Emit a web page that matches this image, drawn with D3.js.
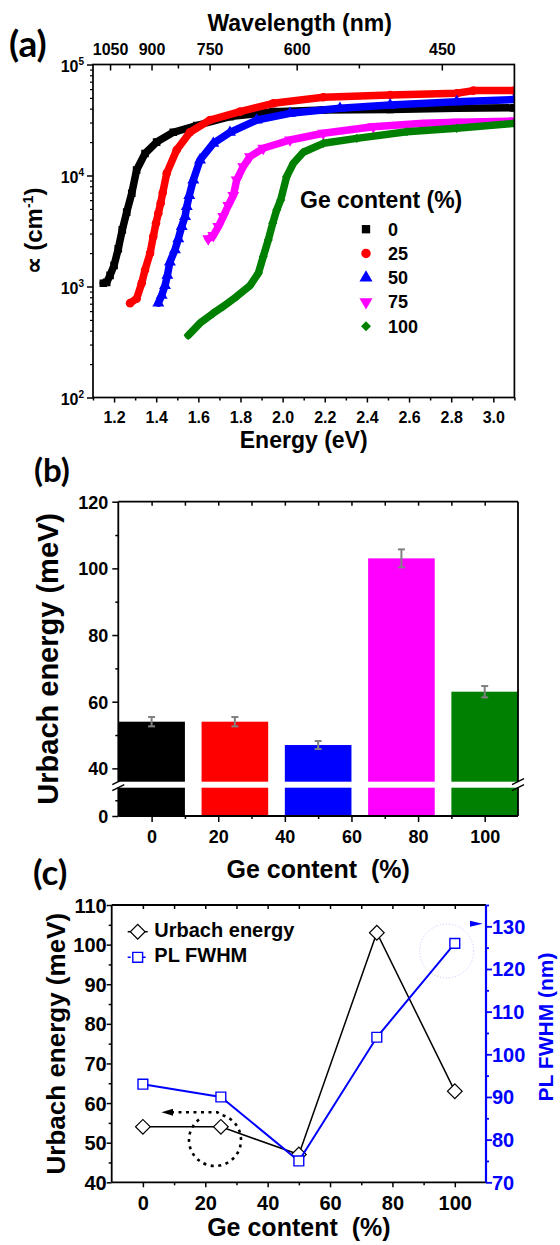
<!DOCTYPE html>
<html><head><meta charset="utf-8">
<script src="https://cdn.jsdelivr.net/npm/d3@7"></script>
<style>
body{margin:0;background:#fff}
svg{display:block}
</style>
</head><body>
<svg id="c" width="560" height="1245"></svg>
<script>
// ---------------- DATA ----------------
// Panel (a): absorption coefficient vs photon energy
const e0   = [1.149,1.165,1.181,1.200,1.220,1.239,1.260,1.284,1.307,1.347,1.402,1.481,1.592,1.750,1.956,2.193,2.510,2.826,3.100];
const a0   = [1070,1090,1260,1550,2190,3240,4680,6920,11200,15800,20000,24500,28200,33900,37600,38900,39400,40300,40700];
const e25  = [1.276,1.307,1.331,1.347,1.371,1.386,1.399,1.410,1.421,1.431,1.450,1.497,1.560,1.655,1.798,1.956,2.193,2.510,2.826,2.905,3.100];
const a25  = [708,776,1070,1410,2000,2820,3720,4570,5620,7000,10500,17000,24500,31600,37600,44700,50700,53100,55000,58200,58200];
const e50  = [1.410,1.426,1.442,1.453,1.465,1.489,1.505,1.521,1.537,1.545,1.557,1.576,1.608,1.671,1.750,1.877,2.035,2.272,2.510,2.826,3.100];
const a50  = [708,832,1020,1260,1660,2140,2690,3470,4270,5250,6610,9120,13800,19500,24500,31600,36300,40300,43200,46200,48400];
const e75  = [1.647,1.671,1.695,1.718,1.742,1.766,1.782,1.813,1.845,1.908,2.035,2.193,2.430,2.668,2.826,3.100];
const a75  = [2690,2880,3470,4270,5370,6610,9120,12000,14800,17600,20900,24000,27500,29500,30200,30900];
const e100 = [1.552,1.608,1.671,1.718,1.782,1.845,1.885,1.908,1.932,1.953,1.972,1.991,2.019,2.051,2.098,2.193,2.352,2.589,2.826,3.100];
const a100 = [363,468,575,661,813,1020,1320,1860,2630,3720,4900,6030,9770,12900,16200,19500,21600,24800,26600,29500];
const legendLabels = ["0","25","50","75","100"];
const energyMajor = [1.2,1.4,1.6,1.8,2.0,2.2,2.4,2.6,2.8,3.0];
const energyMinor = [1.1,1.3,1.5,1.7,1.9,2.1,2.3,2.5,2.7,2.9,3.1];
const lambdaMajor = [1050,900,750,600,450];
const lambdaMinor = [975,825,675,525];
const alphaMajor = [1e2,1e3,1e4,1e5];
const alphaExp = ["2","3","4","5"];

// Panel (b): Urbach energy bars
const geContent = [0,25,50,75,100];
const urbachB = [54,54,47,103,63];
const urbachErr = [1.4,1.4,1.2,2.7,1.7];
const bYMajorUpper = [40,60,80,100,120];
const bYMinorUpper = [50,70,90,110];
const bYMajorLower = [0];
const bYMinorLower = [10];
const bXMajor = [0,20,40,60,80,100];
const bXMinor = [10,30,50,70,90];

// Panel (c): Urbach energy and PL FWHM
const urbachC = [54,54,47,103,63];
const plFwhm = [93,90,75,104,126];
const cYMajor = [40,50,60,70,80,90,100,110];
const cYMinor = [45,55,65,75,85,95,105];
const cRMajor = [70,80,90,100,110,120,130];
const cRMinor = [75,85,95,105,115,125,135];
const cXMajor = [0,20,40,60,80,100];
const cXMinor = [10,30,50,70,90];

// ---------------- STYLE ----------------
const F = '"Liberation Sans", Arial, Helvetica, sans-serif';
const FL = 'Lato, "Open Sans", "Liberation Sans", sans-serif';
const seriesColors = ["#000000","#ff0000","#0000ff","#ff00ff","#008000"];
const BLUE = "#0000ff";

const svg = d3.select("#c");

function label(parent, x, y, s, size, anchor, color, family) {
  return parent.append("text").attr("x", x).attr("y", y).text(s)
    .attr("font-family", family || F).attr("font-weight", "bold")
    .attr("font-size", size).attr("text-anchor", anchor || "start")
    .attr("fill", color || "#000");
}

function axis(parent, gen, tx, ty, opt) {
  const g = parent.append("g").attr("transform", `translate(${tx},${ty})`).call(gen);
  g.attr("font-family", null).attr("font-size", null);
  g.select(".domain").remove();
  g.selectAll(".tick line").attr("stroke", opt.color || "#000").attr("stroke-width", opt.w || 1.5);
  const t = g.selectAll(".tick text").attr("font-family", F).attr("font-weight", "bold")
    .attr("font-size", opt.fs || 16).attr("fill", opt.color || "#000").attr("dy", null);
  if (opt.ty !== undefined) t.attr("y", opt.ty);
  if (opt.tx !== undefined) t.attr("x", opt.tx);
  return g;
}

// ================= PANEL (a) =================
const ax = d3.scaleLinear([1.1, 3.1], [93, 514.4]);
const ay = d3.scaleLog([100, 1e5], [397.5, 64.5]);
const pa = svg.append("g");

svg.append("defs").append("clipPath").attr("id", "clipA")
  .append("rect").attr("x", ax(1.1)).attr("y", ay(1e5))
  .attr("width", ax(3.1) - ax(1.1)).attr("height", ay(100) - ay(1e5));

const seriesA = [
  {e: e0, a: a0, sym: "square"},
  {e: e25, a: a25, sym: "circle"},
  {e: e50, a: a50, sym: "up"},
  {e: e75, a: a75, sym: "down"},
  {e: e100, a: a100, sym: "diamond"}
];
function symPath(kind, scale) {
  const k = scale || 1;
  if (kind === "square") return d3.symbol(d3.symbolSquare, 58 * k)();
  if (kind === "circle") return d3.symbol(d3.symbolCircle, 58 * k)();
  if (kind === "up" || kind === "down") return d3.symbol(d3.symbolTriangle, 62 * k)();
  return d3.symbol(d3.symbolSquare, 42 * k)();
}
function symRot(kind) { return kind === "down" ? 180 : kind === "diamond" ? 45 : 0; }

const dataG = pa.append("g").attr("clip-path", "url(#clipA)");
seriesA.forEach((s, i) => {
  const pts = s.e.map((e, j) => [e, s.a[j]]);
  dataG.append("path").datum(pts)
    .attr("d", d3.line().x(d => ax(d[0])).y(d => ay(d[1])))
    .attr("fill", "none").attr("stroke", seriesColors[i]).attr("stroke-width", 7.5)
    .attr("stroke-linejoin", "round").attr("stroke-linecap", "round");
  dataG.selectAll(null).data(pts).join("path")
    .attr("d", symPath(s.sym))
    .attr("transform", d => `translate(${ax(d[0])},${ay(d[1])}) rotate(${symRot(s.sym)})`)
    .attr("fill", seriesColors[i]);
});

pa.append("rect").attr("x", ax(1.1)).attr("y", ay(1e5))
  .attr("width", ax(3.1) - ax(1.1)).attr("height", ay(100) - ay(1e5))
  .attr("fill", "none").attr("stroke", "#000").attr("stroke-width", 1.7);

axis(pa, d3.axisBottom(ax).tickValues(energyMajor).tickSize(5).tickFormat(d3.format(".1f")), 0, ay(100), {fs: 16, ty: 25.5});
axis(pa, d3.axisBottom(ax).tickValues(energyMinor).tickSize(3).tickFormat(""), 0, ay(100), {});
axis(pa, d3.axisTop(ax).tickValues(lambdaMajor.map(l => 1240 / l)).tickSize(-6)
  .tickFormat((d, i) => lambdaMajor[i]), 0, ay(1e5), {fs: 16, ty: -9.5});
axis(pa, d3.axisTop(ax).tickValues(lambdaMinor.map(l => 1240 / l)).tickSize(-4).tickFormat(""), 0, ay(1e5), {});
axis(pa, d3.axisLeft(ay).tickValues(alphaMajor).tickSize(6).tickFormat(""), ax(1.1), 0, {});
const alphaMinor = [];
[100, 1000, 10000].forEach(b => { for (let k = 2; k <= 9; k++) alphaMinor.push(b * k); });
axis(pa, d3.axisLeft(ay).tickValues(alphaMinor).tickSize(3).tickFormat(""), ax(1.1), 0, {w: 1.2});
alphaMajor.forEach((v, i) => {
  const t = pa.append("text").attr("x", 84).attr("y", ay(v) + 7)
    .attr("font-family", F).attr("font-weight", "bold").attr("font-size", 16).attr("text-anchor", "end");
  t.append("tspan").text("10");
  t.append("tspan").text(alphaExp[i]).attr("font-size", 10).attr("dy", -7);
});

label(pa, (ax(1.1) + ax(3.1)) / 2, 448, "Energy (eV)", 23, "middle");
label(pa, (ax(1.1) + ax(3.1)) / 2 - 4, 31, "Wavelength (nm)", 23, "middle");
const ytA = pa.append("text").attr("transform", `translate(42,${(ay(100) + ay(1e5)) / 2}) rotate(-90)`)
  .attr("font-family", F).attr("font-weight", "bold").attr("font-size", 24).attr("text-anchor", "middle");
ytA.append("tspan").text("\u221D (cm");
ytA.append("tspan").text("-1").attr("font-size", 14).attr("dy", -9);
ytA.append("tspan").text(")").attr("dy", 9);
label(pa, 9, 57, "(a)", 37, "start", "#000", FL);

label(pa, 300, 208, "Ge content (%)", 23, "start");
legendLabels.forEach((s, i) => {
  const y = 235.7 + i * 24.25;
  pa.append("path").attr("d", symPath(seriesA[i].sym, 1.2))
    .attr("transform", `translate(366,${y - 6.5}) rotate(${symRot(seriesA[i].sym)})`)
    .attr("fill", seriesColors[i]);
  label(pa, 388, y, s, 18, "start");
});

// ================= PANEL (b) =================
const pb = svg.append("g");
const bx = d3.scaleLinear([-10, 110], [118.3, 518]);
const byU = d3.scaleLinear([36, 120], [781.7, 501.7]);
const byL = d3.scaleLinear([0, 18], [816, 787.7]);

geContent.forEach((c, i) => {
  const x0 = bx(c - 10), w = bx(c + 10) - bx(c - 10);
  pb.append("rect").attr("x", x0).attr("y", byU(urbachB[i])).attr("width", w)
    .attr("height", byU(36) - byU(urbachB[i])).attr("fill", seriesColors[i]);
  pb.append("rect").attr("x", x0).attr("y", byL(18)).attr("width", w)
    .attr("height", byL(0) - byL(18)).attr("fill", seriesColors[i]);
  const xc = bx(c), yt = byU(urbachB[i] + urbachErr[i]), yb = byU(urbachB[i] - urbachErr[i]);
  const eg = pb.append("g").attr("stroke", "#808080").attr("stroke-width", 2);
  eg.append("line").attr("x1", xc).attr("x2", xc).attr("y1", yt).attr("y2", yb);
  eg.append("line").attr("x1", xc - 3.5).attr("x2", xc + 3.5).attr("y1", yt).attr("y2", yt);
  eg.append("line").attr("x1", xc - 3.5).attr("x2", xc + 3.5).attr("y1", yb).attr("y2", yb);
});
const fb = pb.append("g").attr("stroke", "#000").attr("stroke-width", 1.8).attr("fill", "none");
fb.append("line").attr("x1", bx(-10)).attr("x2", bx(110)).attr("y1", byU(120)).attr("y2", byU(120));
fb.append("line").attr("x1", bx(-10)).attr("x2", bx(110)).attr("y1", byL(0)).attr("y2", byL(0));
[bx(-10), bx(110)].forEach(x => {
  fb.append("line").attr("x1", x).attr("x2", x).attr("y1", byU(120)).attr("y2", byU(36));
  fb.append("line").attr("x1", x).attr("x2", x).attr("y1", byL(18)).attr("y2", byL(0));
  [byU(36), byL(18)].forEach(y => {
    fb.append("line").attr("x1", x - 6).attr("x2", x + 6).attr("y1", y + 3).attr("y2", y - 3).attr("stroke-width", 1.5);
  });
});
axis(pb, d3.axisLeft(byU).tickValues(bYMajorUpper).tickSize(6).tickFormat(d3.format("d")), bx(-10), 0, {fs: 18, ty: 6.5, tx: -10});
axis(pb, d3.axisLeft(byU).tickValues(bYMinorUpper).tickSize(3).tickFormat(""), bx(-10), 0, {});
axis(pb, d3.axisLeft(byL).tickValues(bYMajorLower).tickSize(6).tickFormat(d3.format("d")), bx(-10), 0, {fs: 18, ty: 6.5, tx: -10});
axis(pb, d3.axisLeft(byL).tickValues(bYMinorLower).tickSize(3).tickFormat(""), bx(-10), 0, {});
axis(pb, d3.axisBottom(bx).tickValues(bXMajor).tickSize(6).tickFormat(d3.format("d")), 0, byL(0), {fs: 18, ty: 27});
axis(pb, d3.axisBottom(bx).tickValues(bXMinor).tickSize(3).tickFormat(""), 0, byL(0), {});
axis(pb, d3.axisTop(bx).tickValues(bXMajor.concat(bXMinor)).tickSize(-4).tickFormat(""), 0, byU(120), {});
label(pb, (bx(-10) + bx(110)) / 2, 878, "Ge content  (%)", 25, "middle").style("white-space", "pre");
pb.append("text").attr("transform", `translate(58,${(byU(120) + byL(0)) / 2}) rotate(-90)`)
  .attr("font-family", F).attr("font-weight", "bold").attr("font-size", 29).attr("text-anchor", "middle")
  .text("Urbach energy (meV)");
label(pb, 34, 482, "(b)", 33, "start", "#000", FL);

// ================= PANEL (c) =================
const pc = svg.append("g");
const cx = d3.scaleLinear([-10, 110], [111.7, 486]);
const cyL = d3.scaleLinear([40, 110], [1182.3, 905]);
const cyR = d3.scaleLinear([70, 135], [1182.3, 905]);

const circC = {x: 215, y: 1140, r: 26};
const ang = a => [circC.x + circC.r * Math.cos(a * Math.PI / 180), circC.y + circC.r * Math.sin(a * Math.PI / 180)];
const pS = ang(232), pE = ang(-78);
pc.append("path")
  .attr("d", `M${pS[0]},${pS[1]} A${circC.r},${circC.r} 0 1 0 ${pE[0]},${pE[1]} L${pE[0] - 3},${1112.3} L171,1112.3`)
  .attr("fill", "none").attr("stroke", "#000").attr("stroke-width", 2.6).attr("stroke-dasharray", "3,4.5");
pc.append("path").attr("d", "M161.5,1112.3 L173,1108.8 L173,1115.8 Z").attr("fill", "#000");
pc.append("circle").attr("cx", 446.7).attr("cy", 951).attr("r", 27)
  .attr("fill", "none").attr("stroke", "#c4c4ff").attr("stroke-width", 1).attr("stroke-dasharray", "1,2");
pc.append("path").attr("d", "M470,920.7 L482.7,923.7 L470,926.7 Z").attr("fill", BLUE);

const ptsU = geContent.map((c, i) => [c, urbachC[i]]);
const ptsP = geContent.map((c, i) => [c, plFwhm[i]]);
pc.append("path").datum(ptsU).attr("d", d3.line().x(d => cx(d[0])).y(d => cyL(d[1])))
  .attr("fill", "none").attr("stroke", "#000").attr("stroke-width", 1.5);
pc.selectAll(null).data(ptsU).join("path")
  .attr("d", d3.symbol(d3.symbolSquare, 108)())
  .attr("transform", d => `translate(${cx(d[0])},${cyL(d[1])}) rotate(45)`)
  .attr("fill", "#fff").attr("stroke", "#000").attr("stroke-width", 1.2);
pc.append("path").datum(ptsP).attr("d", d3.line().x(d => cx(d[0])).y(d => cyR(d[1])))
  .attr("fill", "none").attr("stroke", BLUE).attr("stroke-width", 2);
pc.selectAll(null).data(ptsP).join("path")
  .attr("d", d3.symbol(d3.symbolSquare, 96)())
  .attr("transform", d => `translate(${cx(d[0])},${cyR(d[1])})`)
  .attr("fill", "#fff").attr("stroke", BLUE).attr("stroke-width", 1.4);

const fc = pc.append("g").attr("stroke-width", 1.8);
fc.append("line").attr("x1", cx(-10)).attr("x2", cx(-10)).attr("y1", cyL(110)).attr("y2", cyL(40)).attr("stroke", "#000");
fc.append("line").attr("x1", cx(-10)).attr("x2", cx(110)).attr("y1", cyL(110)).attr("y2", cyL(110)).attr("stroke", "#000");
fc.append("line").attr("x1", cx(-10)).attr("x2", cx(110)).attr("y1", cyL(40)).attr("y2", cyL(40)).attr("stroke", "#000");
fc.append("line").attr("x1", cx(110)).attr("x2", cx(110)).attr("y1", cyL(110)).attr("y2", cyL(40)).attr("stroke", BLUE).attr("stroke-width", 2.2);

axis(pc, d3.axisLeft(cyL).tickValues(cYMajor).tickSize(5).tickFormat(d3.format("d")), cx(-10), 0, {fs: 20, ty: 7, tx: -5});
axis(pc, d3.axisLeft(cyL).tickValues(cYMinor).tickSize(3).tickFormat(""), cx(-10), 0, {});
axis(pc, d3.axisRight(cyR).tickValues(cRMajor).tickSize(6).tickFormat(d3.format("d")), cx(110), 0, {fs: 20, ty: 7, tx: 6, color: BLUE, w: 1.8});
axis(pc, d3.axisRight(cyR).tickValues(cRMinor).tickSize(3).tickFormat(""), cx(110), 0, {color: BLUE, w: 1.8});
axis(pc, d3.axisBottom(cx).tickValues(cXMajor).tickSize(5).tickFormat(d3.format("d")), 0, cyL(40), {fs: 20, ty: 28});
axis(pc, d3.axisBottom(cx).tickValues(cXMinor).tickSize(3).tickFormat(""), 0, cyL(40), {});
axis(pc, d3.axisTop(cx).tickValues(cXMajor.concat(cXMinor)).tickSize(-4).tickFormat(""), 0, cyL(110), {});

const lg = pc.append("g");
lg.append("line").attr("x1", 127.7).attr("x2", 147.7).attr("y1", 931.7).attr("y2", 931.7).attr("stroke", "#000").attr("stroke-width", 1.5);
lg.append("path").attr("d", d3.symbol(d3.symbolSquare, 108)()).attr("transform", "translate(137.7,931.7) rotate(45)")
  .attr("fill", "#fff").attr("stroke", "#000").attr("stroke-width", 1.2);
label(lg, 154.3, 937, "Urbach energy", 20, "start");
lg.append("line").attr("x1", 127.7).attr("x2", 147.7).attr("y1", 957.3).attr("y2", 957.3).attr("stroke", BLUE).attr("stroke-width", 1.5).attr("stroke-dasharray", "3,2");
lg.append("path").attr("d", d3.symbol(d3.symbolSquare, 96)()).attr("transform", "translate(137.7,957.3)")
  .attr("fill", "#fff").attr("stroke", BLUE).attr("stroke-width", 1.4);
label(lg, 154.3, 961.5, "PL FWHM", 20, "start");

label(pc, (cx(-10) + cx(110)) / 2, 1236, "Ge content  (%)", 25, "middle").style("white-space", "pre");
pc.append("text").attr("transform", `translate(64.5,${(cyL(110) + cyL(40)) / 2}) rotate(-90)`)
  .attr("font-family", F).attr("font-weight", "bold").attr("font-size", 26).attr("text-anchor", "middle")
  .text("Urbach energy (meV)");
pc.append("text").attr("transform", `translate(553,1027) rotate(-90)`)
  .attr("font-family", F).attr("font-weight", "bold").attr("font-size", 21).attr("text-anchor", "middle")
  .attr("fill", BLUE).text("PL FWHM (nm)");
label(pc, 33, 885, "(c)", 35, "start", "#000", FL);
</script>
</body></html>
